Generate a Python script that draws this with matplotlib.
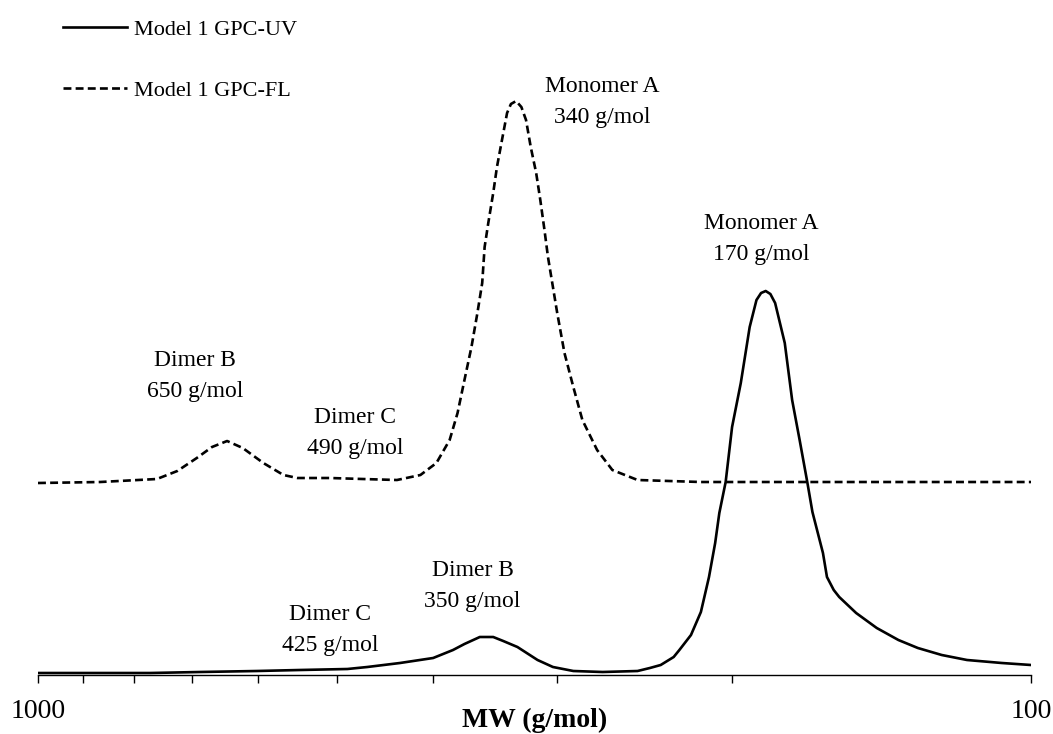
import matplotlib.pyplot as plt
from matplotlib.ticker import FixedLocator, NullFormatter

plt.rcParams['font.family'] = ['Liberation Serif', 'DejaVu Serif']

# Model 1 GPC-UV trace: molecular weight (g/mol) and detector signal (arb. units)
uv_mw = [1000, 771, 687, 602, 545, 488, 466, 432, 400, 382, 372, 359, 348, 340,
         329, 314, 303, 289, 270, 249, 242, 236, 229, 226, 220, 215, 211, 208,
         206, 203, 200, 196, 192, 189, 187, 185, 183, 181, 177, 174, 171, 168, 166,
         162, 160.5, 158, 156, 150, 143, 136, 130, 123, 116, 107, 100]
uv_signal = [2, 2, 3, 4, 5, 6, 8, 12, 17, 25, 31, 38, 38, 34,
             28, 15, 8, 4, 3, 4, 7, 10, 18, 25, 40, 63, 98, 132,
             162, 193, 248, 292, 348, 375, 382, 384, 381, 372, 332, 275, 235, 193, 163,
             122, 98, 85, 78, 62, 47, 35, 27, 20, 15, 12, 10]

# Model 1 GPC-FL trace (plotted with its own baseline offset)
fl_mw = [1000, 866, 759, 724, 692, 668, 645, 622, 593, 566, 548, 508, 471, 435,
         412, 397, 385, 378, 372, 366, 361, 357, 355, 352, 348, 345, 341, 337,
         334, 330, 326, 322.5, 319, 315, 312, 309, 306.5, 303, 300, 295, 289,
         283, 273.5, 264, 249, 215, 100]
fl_signal = [192, 193, 196, 204, 217, 228, 234, 227, 212, 200, 197, 197, 196, 195,
             200, 212, 235, 262, 295, 328, 362, 392, 428, 452, 482, 508, 535, 562,
             571, 574, 568, 555, 528, 502, 475, 445, 418, 388, 362, 322, 288,
             255, 225, 205, 195, 193, 193]

series_names = ['Model 1 GPC-UV', 'Model 1 GPC-FL']
peak_labels = ['Monomer A\n340 g/mol', 'Monomer A\n170 g/mol', 'Dimer B\n650 g/mol',
               'Dimer C\n490 g/mol', 'Dimer B\n350 g/mol', 'Dimer C\n425 g/mol']

fig = plt.figure(figsize=(10.53, 7.34), dpi=100)
ax = fig.add_axes([38 / 1053, 59 / 734, 993 / 1053, 0.8106])

l1, = ax.plot(uv_mw, uv_signal, color='black', lw=1.9, solid_joinstyle='round')
l2, = ax.plot(fl_mw, fl_signal, color='black', lw=1.9, linestyle=(0, (3.0, 1.6)))

ax.set_xscale('log')
ax.set_xlim(1000, 100)
ax.set_ylim(0, 595)

ax.xaxis.set_major_locator(FixedLocator([1000, 100]))
ax.xaxis.set_minor_locator(FixedLocator([900, 800, 700, 600, 500, 400, 300, 200]))
ax.xaxis.set_major_formatter(plt.FixedFormatter(['1000', '100']))
ax.xaxis.set_minor_formatter(NullFormatter())
ax.tick_params(axis='x', which='both', direction='out', length=6, width=1,
               labelsize=20, pad=11)
ax.set_yticks([])
for side in ['left', 'right', 'top']:
    ax.spines[side].set_visible(False)
ax.spines['bottom'].set_linewidth(1)

ax.set_xlabel('MW (g/mol)', fontsize=20, fontweight='bold', labelpad=-11)

label_pos = [(270, 573), (187, 436), (695, 299), (479, 242), (365, 89), (508, 45)]
for text, (x, y) in zip(peak_labels, label_pos):
    ax.text(x, y, text, ha='center', va='center', fontsize=17, linespacing=1.6)

fig.legend([l1, l2], series_names, loc='upper left',
           bbox_to_anchor=(63 / 1053, 1 - 19 / 734), frameon=False,
           fontsize=16, handlelength=2.9, handletextpad=0.3, labelspacing=1.85,
           borderpad=0, borderaxespad=0)

fig.savefig('out.png', dpi=100)
